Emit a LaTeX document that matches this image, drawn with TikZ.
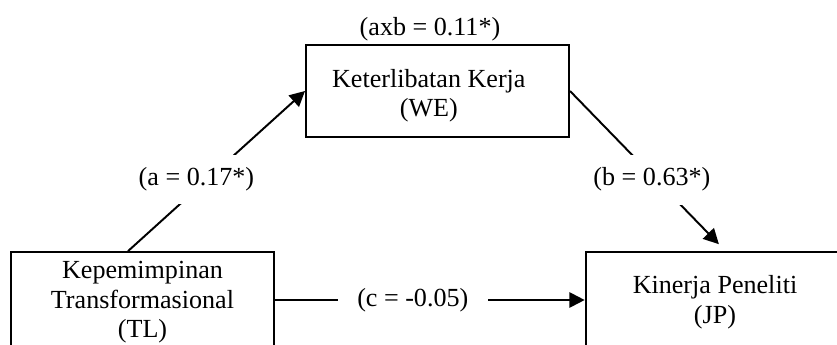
\documentclass[tikz,border=0pt]{standalone}
\usepackage{fontspec}
\setmainfont{Liberation Serif}
\usetikzlibrary{arrows.meta}
\begin{document}
\begin{tikzpicture}[x=0.46pt,y=-0.46pt,line width=0.9pt,font=\fontsize{12}{13.4}\selectfont,
box/.style={draw,minimum width=121pt,minimum height=44pt,inner sep=0},
boxtxt/.style={align=center,inner sep=0},
lab/.style={fill=white,inner xsep=9pt,inner ysep=6pt},
arr/.style={-{Triangle[length=7pt,width=7pt]}}]
\useasboundingbox(0,0)rectangle(837,345);\clip(0,0)rectangle(837,345);
\node[box,label={[boxtxt,yshift=-1pt]center:Kepemimpinan\\Transformasional\\(TL)}](TL)at(142.5,300){};
\node[box,minimum height=42.3pt,label={[boxtxt,xshift=-4pt,yshift=-2.3pt]center:Keterlibatan Kerja\\(WE)}](WE)at(437.5,91){};
\node[box,minimum width=119pt,label={[boxtxt,yshift=-1pt]center:Kinerja Peneliti\\(JP)}](JP)at(715,300){};
\coordinate(a0)at([xshift=-6.7pt]TL.north);\coordinate(b1)at([xshift=1.8pt,yshift=3.2pt]JP.north);
\draw[arr](a0)--(WE.west)node[lab,pos=0.42,xshift=-2.7pt,yshift=2pt]{(a = 0.17*)};
\draw[arr](WE.east)--(b1)node[lab,pos=0.55,yshift=-2pt]{(b = 0.63*)};
\draw[arr](TL.east)--(JP.west)node[lab,pos=0.445]{(c = -0.05)};
\node(axb)at(430,29){(axb = 0.11*)};
\end{tikzpicture}
\end{document}
